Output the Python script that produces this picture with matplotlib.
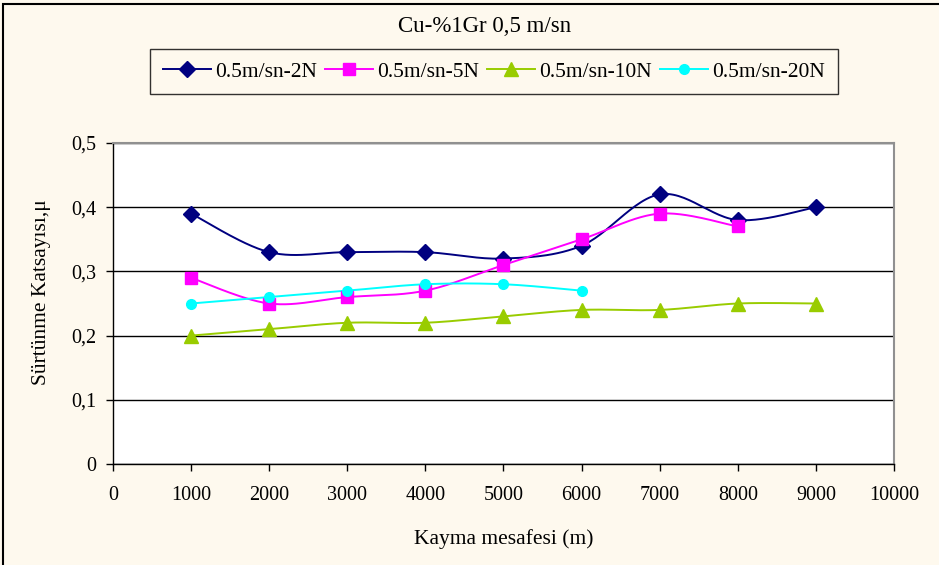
import numpy as np
import matplotlib
matplotlib.use("Agg")
import matplotlib.pyplot as plt
from matplotlib.patches import Rectangle

plt.rcParams['font.family'] = ['Liberation Serif', 'DejaVu Serif']

distance = [1000, 2000, 3000, 4000, 5000, 6000, 7000, 8000, 9000]
mu_2N = [0.39, 0.33, 0.33, 0.33, 0.32, 0.34, 0.42, 0.38, 0.40]
mu_5N = [0.29, 0.25, 0.26, 0.27, 0.31, 0.35, 0.39, 0.37]
mu_10N = [0.20, 0.21, 0.22, 0.22, 0.23, 0.24, 0.24, 0.25, 0.25]
mu_20N = [0.25, 0.26, 0.27, 0.28, 0.28, 0.27]
labels = ['0.5m/sn-2N', '0.5m/sn-5N', '0.5m/sn-10N', '0.5m/sn-20N']
colors = ['#000080', '#FF00FF', '#99CC00', '#00FFFF']
markers = ['D', 's', '^', 'o']
msizes = [8, 9, 10, 7]

W, H = 939, 565
BG = '#FEF9EE'


def smooth(x, y, n=30):
    """Catmull-Rom style smoothing through every point."""
    x = np.asarray(x, float)
    y = np.asarray(y, float)
    px, py = [], []
    for i in range(len(x) - 1):
        x0, y0 = (x[i - 1], y[i - 1]) if i > 0 else (x[i], y[i])
        x3, y3 = (x[i + 2], y[i + 2]) if i + 2 < len(x) else (x[i + 1], y[i + 1])
        x1, y1, x2, y2 = x[i], y[i], x[i + 1], y[i + 1]
        c1x, c1y = x1 + (x2 - x0) / 6, y1 + (y2 - y0) / 6
        c2x, c2y = x2 - (x3 - x1) / 6, y2 - (y3 - y1) / 6
        t = np.linspace(0, 1, n)
        b0, b1, b2, b3 = (1 - t) ** 3, 3 * t * (1 - t) ** 2, 3 * t ** 2 * (1 - t), t ** 3
        px.extend(b0 * x1 + b1 * c1x + b2 * c2x + b3 * x2)
        py.extend(b0 * y1 + b1 * c1y + b2 * c2y + b3 * y2)
    return np.array(px), np.array(py)


fig = plt.figure(figsize=(W / 100, H / 100), dpi=100, facecolor=BG)
ax = fig.add_axes([113 / W, 1 - 464 / H, (894 - 113) / W, (464 - 143) / H])
ax.set_facecolor('white')

series = [mu_2N, mu_5N, mu_10N, mu_20N]
handles = []
for vals, lab, c, m, ms in zip(series, labels, colors, markers, msizes):
    xs = distance[:len(vals)]
    sx, sy = smooth(xs, vals)
    ax.plot(sx, sy, color=c, lw=1.4, zorder=3)
    ax.plot(xs, vals, linestyle='none', marker=m, ms=ms, color=c, zorder=4)
    h, = ax.plot([], [], color=c, lw=1.4, marker=m, ms=ms)
    handles.append(h)

ax.set_xlim(0, 10000)
ax.set_ylim(0, 0.5)
ax.set_xticks(np.arange(0, 10001, 1000))
ax.set_yticks(np.arange(0, 0.51, 0.1))
ax.set_yticklabels(['0', '0,1', '0,2', '0,3', '0,4', '0,5'])
ax.yaxis.grid(True, color='black', lw=1)
ax.set_axisbelow(True)
ax.tick_params(axis='both', direction='out', length=5, width=1, color='black',
               labelsize=14.5)
ax.tick_params(axis='x', pad=11)
ax.tick_params(axis='y', pad=7)
for s in ['top', 'right']:
    ax.spines[s].set_color('#909090')
    ax.spines[s].set_linewidth(1.5)
for s in ['left', 'bottom']:
    ax.spines[s].set_color('black')
    ax.spines[s].set_linewidth(1)

ax.set_xlabel('Kayma mesafesi (m)', fontsize=15.5, labelpad=17)
ax.set_ylabel('Sürtünme Katsayısı,μ', fontsize=15.5)
ax.yaxis.set_label_coords((51 - 113) / (894 - 113), (464 - 292) / (464 - 143))

fig.text(485 / W, 1 - 26 / H, 'Cu-%1Gr 0,5 m/sn', ha='center', va='center',
         fontsize=16.5)

leg = fig.legend(handles, labels, ncol=4, loc='center',
                 bbox_to_anchor=(494 / W, 1 - 71.5 / H),
                 fontsize=15.5, frameon=True, fancybox=False,
                 handlelength=2.2, handletextpad=0.2, borderpad=0.6,
                 columnspacing=0.4, borderaxespad=0)
leg.get_frame().set_edgecolor('black')
leg.get_frame().set_linewidth(1)
leg.get_frame().set_facecolor(BG)

fig.patches.append(Rectangle((3 / W, -0.01), 1.0, 1 - 4 / H + 0.01,
                             transform=fig.transFigure, fill=False,
                             edgecolor='black', lw=1.5))

fig.savefig('out.png', dpi=100, facecolor=BG)
